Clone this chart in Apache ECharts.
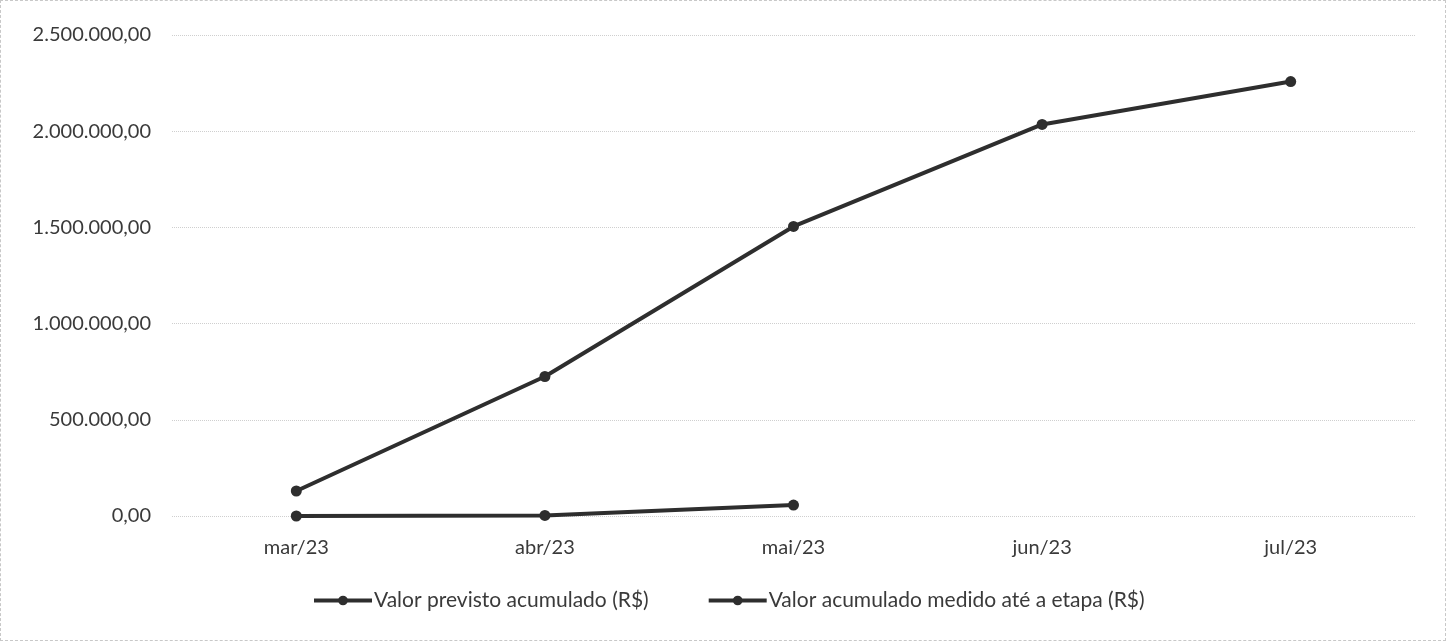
<!DOCTYPE html>
<html>
<head>
<meta charset="utf-8">
<script src="https://cdn.jsdelivr.net/npm/echarts@6/dist/echarts.min.js"></script>
<style>
html,body{margin:0;padding:0;background:#fff;}
#c{width:1446px;height:641px;box-sizing:border-box;border:1px dashed #c8c8c8;}
</style>
</head>
<body>
<div id="c"></div>
<script>
const categories = ['mar/23', 'abr/23', 'mai/23', 'jun/23', 'jul/23'];
const previsto = [130000, 725000, 1505000, 2035000, 2258000];
const medido = [0, 3000, 57000];
const seriesNames = ['Valor previsto acumulado (R$)', 'Valor acumulado medido até a etapa (R$)'];

function fmt(v) {
  const parts = Math.round(v).toString().replace(/\B(?=(\d{3})+(?!\d))/g, '.');
  return parts + ',00';
}

const chart = echarts.init(document.getElementById('c'));
const lineColor = '#2e2e2e';
const textColor = '#3a3a3a';
chart.setOption({
  animation: false,
  backgroundColor: '#fff',
  grid: { left: 171, right: 30, top: 34, bottom: 124 },
  legend: {
    top: 584,
    left: 306,
    itemWidth: 58,
    itemHeight: 12,
    itemGap: 58,
    lineStyle: { width: 4 },
    textStyle: { fontFamily: 'Lato', fontSize: 21, color: textColor, padding: [0, 0, 0, -3] },
    data: seriesNames
  },
  xAxis: {
    type: 'category',
    data: categories,
    boundaryGap: true,
    axisLine: { show: false },
    axisTick: { show: false },
    axisLabel: { margin: 22, fontFamily: 'Lato', fontSize: 20, color: textColor }
  },
  yAxis: {
    type: 'value',
    min: 0,
    max: 2500000,
    interval: 500000,
    axisLine: { show: false },
    axisTick: { show: false },
    axisLabel: { margin: 21, fontFamily: 'Lato', fontSize: 20, color: textColor, formatter: fmt },
    splitLine: { lineStyle: { color: '#cfcfcf', type: 'dotted', width: 1 } }
  },
  series: [
    {
      name: seriesNames[0],
      type: 'line',
      data: previsto,
      symbol: 'circle',
      symbolSize: 11,
      lineStyle: { color: lineColor, width: 4 },
      itemStyle: { color: lineColor }
    },
    {
      name: seriesNames[1],
      type: 'line',
      data: medido,
      symbol: 'circle',
      symbolSize: 11,
      lineStyle: { color: lineColor, width: 4 },
      itemStyle: { color: lineColor }
    }
  ]
});
</script>
</body>
</html>
